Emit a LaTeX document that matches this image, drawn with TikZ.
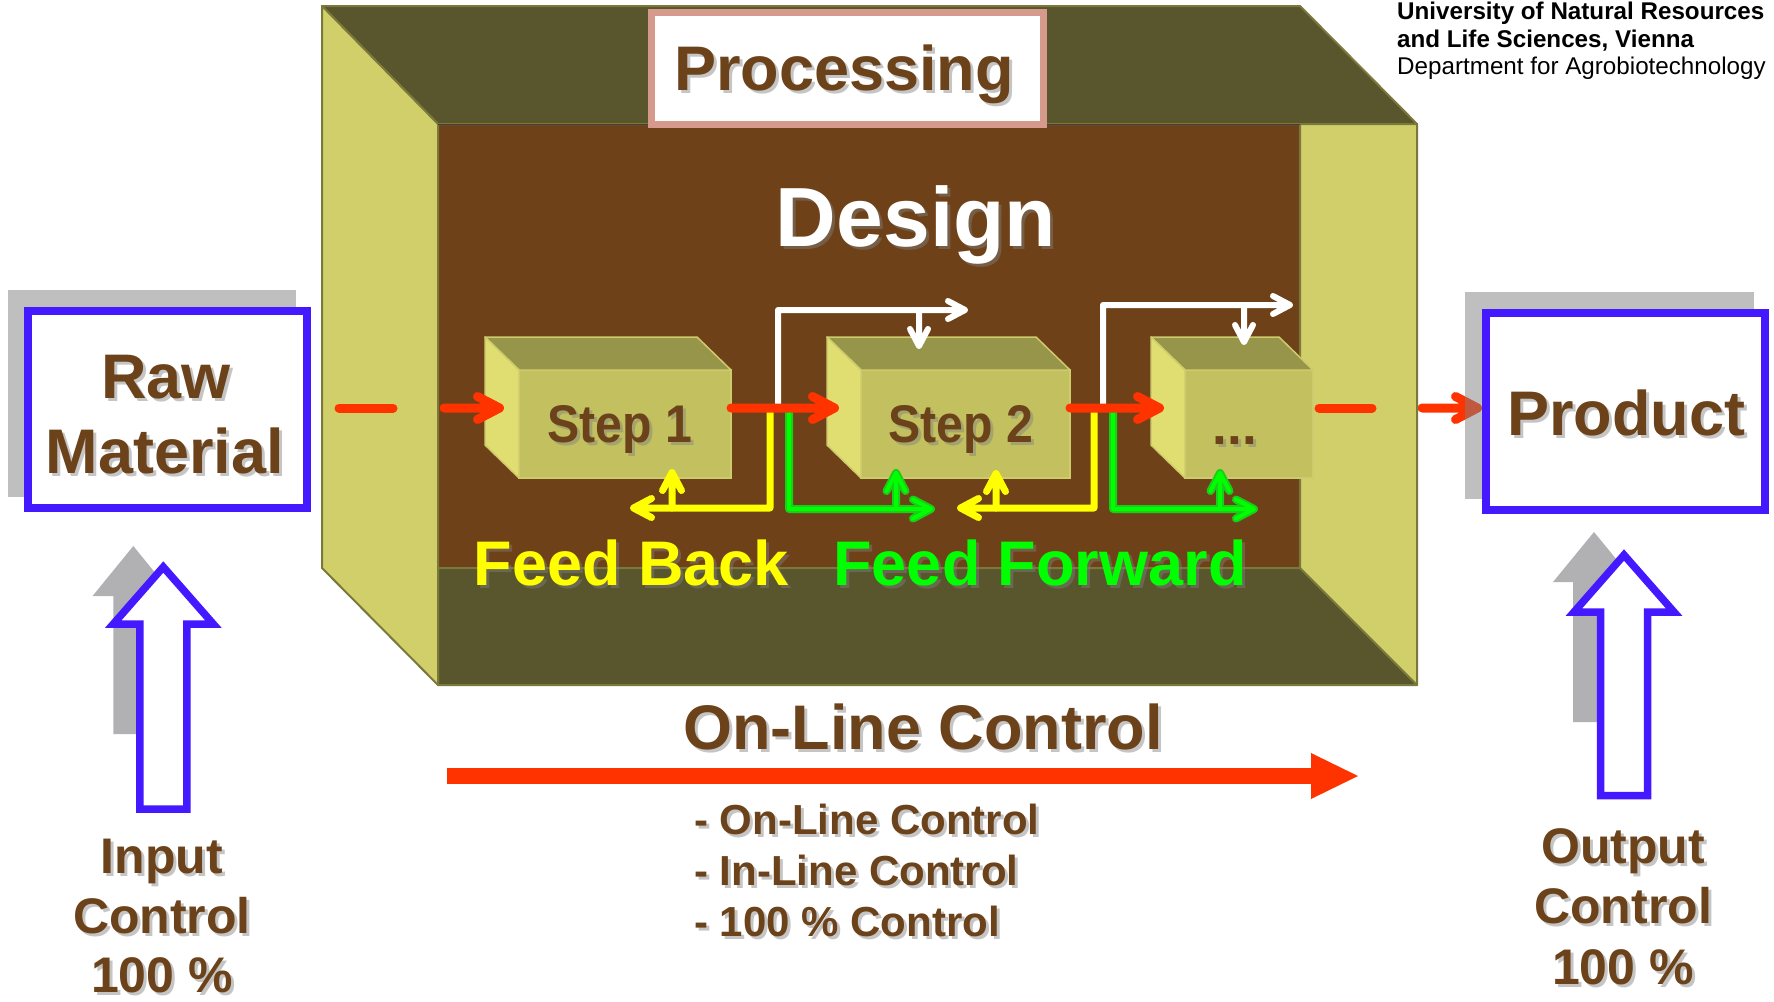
\documentclass[tikz,border=0pt]{standalone}
\usepackage{fontspec}
\setmainfont{Liberation Sans}
\usetikzlibrary{calc}

\definecolor{hallbrown}{RGB}{111,65,24}
\definecolor{halldark}{RGB}{89,85,45}
\definecolor{hallwall}{RGB}{209,207,105}
\definecolor{halledge}{RGB}{122,120,58}
\definecolor{boxfront}{RGB}{195,192,96}
\definecolor{boxtop}{RGB}{151,149,73}
\definecolor{boxside}{RGB}{224,221,113}
\definecolor{boxedge}{RGB}{206,203,108}
\definecolor{txtbrown}{RGB}{107,66,25}
\definecolor{flowred}{RGB}{255,51,0}
\definecolor{ctrlblue}{RGB}{68,25,255}
\definecolor{labelrose}{RGB}{213,154,140}
\definecolor{shadegray}{RGB}{128,128,128}
\definecolor{arrowgray}{RGB}{177,176,179}
\definecolor{fbyellow}{RGB}{255,255,0}
\definecolor{ffgreen}{RGB}{0,255,0}
\definecolor{ffdark}{RGB}{25,205,25}

\pgfdeclarelayer{bg}
\pgfdeclarelayer{low}
\pgfdeclarelayer{mid}
\pgfsetlayers{bg,low,mid,main}

% text with a soft drop shadow: name, options, position, text
\newcommand\shadowed[4]{%
  \node[#2,text=shadegray,opacity=.45] (#1-sh) at ($(#3)+(3,3)$) {#4};
  \node[#2] (#1) at (#3) {#4};}

% outline of an upward block arrow: centre x, tip y, head base y, bottom y, head half width, shaft half width
\newcommand\uparrowpath[6]{(#1,#2) -- ({#1+#5},#3) -- ({#1+#6},#3) -- ({#1+#6},#4)
  -- ({#1-#6},#4) -- ({#1-#6},#3) -- ({#1-#5},#3) -- cycle}

% open chevron heads at a named point: point, length, half width
\newcommand\tipR[3]{($(#1)+(-#2,-#3)$) -- (#1) -- ($(#1)+(-#2,#3)$)}
\newcommand\tipL[3]{($(#1)+(#2,-#3)$) -- (#1) -- ($(#1)+(#2,#3)$)}
\newcommand\tipU[3]{($(#1)+(-#3,#2)$) -- (#1) -- ($(#1)+(#3,#2)$)}
\newcommand\tipD[3]{($(#1)+(-#3,-#2)$) -- (#1) -- ($(#1)+(#3,-#2)$)}

\tikzset{
  lbl/.style={font=\bfseries\fontsize{#1}{#1}\selectfont, inner sep=0pt, anchor=base, text=txtbrown},
  face/.style={fill=#1, draw=halledge, line width=2pt, line join=round},
  ctrlbox/.style={draw=ctrlblue, line width=8pt, fill=white, minimum width=279pt,
    minimum height=197pt, inner sep=0pt},
  stepface/.style={fill=boxfront, draw=boxedge, line width=1.5pt, minimum height=108pt,
    inner sep=0pt, outer sep=0pt},
  stepside/.style={fill=#1, draw=boxedge, line width=1.5pt, line join=round},
  flow/.style={draw=flowred, line width=9pt, line cap=round, line join=round},
  infoline/.style={draw=white, line width=6pt, line cap=round, line join=round},
  fbline/.style={draw=fbyellow, line width=7pt, line cap=round, line join=round},
  ffline/.style={draw=ffdark, line width=8pt, line cap=round, line join=round},
  ffcore/.style={draw=ffgreen, line width=4pt, line cap=round, line join=round},
  ctrlarrow/.style={fill=white, draw=ctrlblue, line width=7.5pt, line join=miter},
}

% a process step drawn as an oblique box: name, centre x, front width
\newcommand\stepblock[3]{%
  \node[stepface, minimum width=#3] (#1) at (#2,424) {};
  \draw[stepside=boxtop] (#1.north west) -- ++(-34,-33) -- ($(#1.north east)+(-34,-33)$)
    -- (#1.north east) -- cycle;
  \draw[stepside=boxside] (#1.north west) -- ++(-34,-33) -- ++(0,108) -- (#1.south west) -- cycle;}

\begin{document}
\begin{tikzpicture}[x=1pt,y=-1pt]
\useasboundingbox (0,0) rectangle (1774,1001);
\begin{pgfonlayer}{bg}
  \fill[white] (0,0) rectangle (1774,1001);
\end{pgfonlayer}

% ---------- processing hall ----------
\fill[hallbrown] (438,124) rectangle (1300,568);
\draw[face=halldark] (322,6) -- (1300,6) -- (1417,124) -- (438,124) -- cycle;
\draw[face=halldark] (438,568) -- (1300,568) -- (1417,685) -- (438,685) -- cycle;
\draw[face=hallwall] (322,6) -- (438,124) -- (438,685) -- (322,568) -- cycle;
\draw[face=hallwall] (1300,124) -- (1417,124) -- (1417,685) -- (1300,568) -- cycle;
\draw[black!75, line width=1pt] (438,124) -- (1300,124);

\node[draw=labelrose, line width=7pt, fill=white, minimum width=392pt, minimum height=112pt,
  inner sep=0pt] (proc) at (847.5,68.75) {};
\shadowed{proctext}{lbl=63}{844,90}{Processing}
\shadowed{design}{lbl=84, text=white}{916,246}{Design}

% ---------- process steps ----------
\stepblock{s1}{625}{212}
\stepblock{s2}{965.5}{209}
\stepblock{s3}{1249}{128}
\shadowed{s1text}{lbl=53}{620,442}{\scalebox{0.91}[1]{Step 1}}
\shadowed{s2text}{lbl=53}{961,442}{\scalebox{0.91}[1]{Step 2}}
\shadowed{s3text}{lbl=53}{1235,444}{...}

% ---------- information flows ----------
\coordinate (w1a) at (778,404);  \coordinate (w1c) at (965,310);
\coordinate (w1d) at (919,310);  \coordinate (w1e) at (919,346);
\coordinate (w2a) at (1103,404); \coordinate (w2c) at (1290,305);
\coordinate (w2d) at (1244,305); \coordinate (w2e) at (1244,342);
\draw[infoline] (w1a) |- (w1c) \tipR{w1c}{17}{9};
\draw[infoline] (w1d) -- (w1e) \tipD{w1e}{17}{9};
\draw[infoline] (w2a) |- (w2c) \tipR{w2c}{17}{9};
\draw[infoline] (w2d) -- (w2e) \tipD{w2e}{17}{9};

\coordinate (y1a) at (770,412);  \coordinate (y1c) at (633.5,508);
\coordinate (y1d) at (672,508);  \coordinate (y1e) at (672,472.5);
\coordinate (y2a) at (1094,412); \coordinate (y2c) at (960.5,508);
\coordinate (y2d) at (996,508);  \coordinate (y2e) at (996,473.5);
\draw[fbline] (y1a) |- (y1c) \tipL{y1c}{18}{9.5};
\draw[fbline] (y1d) -- (y1e) \tipU{y1e}{18}{9.5};
\draw[fbline] (y2a) |- (y2c) \tipL{y2c}{18}{9.5};
\draw[fbline] (y2d) -- (y2e) \tipU{y2e}{18}{9.5};

\coordinate (g1a) at (789,412);  \coordinate (g1c) at (931,509);
\coordinate (g1d) at (896,509);  \coordinate (g1e) at (896,473);
\coordinate (g2a) at (1113,412); \coordinate (g2c) at (1254,509);
\coordinate (g2d) at (1220,509); \coordinate (g2e) at (1220,473);
\foreach \st in {ffline,ffcore}{
  \draw[\st] (g1a) |- (g1c) \tipR{g1c}{18}{9.5};
  \draw[\st] (g1d) -- (g1e) \tipU{g1e}{18}{9.5};
  \draw[\st] (g2a) |- (g2c) \tipR{g2c}{18}{9.5};
  \draw[\st] (g2d) -- (g2e) \tipU{g2e}{18}{9.5};
}

% ---------- material flow ----------
\coordinate (d0a) at (339,408);  \coordinate (d0b) at (393,408);
\coordinate (in1) at (444,408);  \coordinate (tip1) at (499.5,408);
\coordinate (tip2) at (834.5,408); \coordinate (tip3) at (1159.5,408);
\coordinate (d1a) at (1319,408); \coordinate (d1b) at (1372,408);
\coordinate (in4) at (1422,408);
\draw[flow] (d0a) -- (d0b);
\draw[flow] (in1) -- (tip1) \tipR{tip1}{22}{11.5};
\draw[flow] ($(s1.east)+(0,-16)$) -- (tip2) \tipR{tip2}{22}{11.5};
\draw[flow] ($(s2.east)+(0,-16)$) -- (tip3) \tipR{tip3}{22}{11.5};
\draw[flow] (d1a) -- (d1b);

\shadowed{fback}{lbl=63, text=fbyellow}{631.5,585}{Feed Back}
\shadowed{fforward}{lbl=63, text=ffgreen}{1040,585}{Feed Forward}

% ---------- raw material and product ----------
\fill[shadegray, opacity=.5] (8,290) rectangle (296,497);
\node[ctrlbox] (raw) at (167.5,409.5) {};
\shadowed{rawt1}{lbl=63}{166,398}{Raw}
\shadowed{rawt2}{lbl=63}{165,473}{Material}

\node[ctrlbox] (product) at (1625.5,411.5) {};
\coordinate (tip4) at ($(product.west |- in4)+(-4.5,0)$);
\begin{pgfonlayer}{low}
  \draw[flow] (in4) -- (tip4) \tipR{tip4}{22}{11.5};
\end{pgfonlayer}
\begin{pgfonlayer}{mid}
  \fill[shadegray, opacity=.5] (1465,292) rectangle (1754,499);
\end{pgfonlayer}
\shadowed{prodtext}{lbl=63}{1626,435}{Product}

% ---------- on-line control ----------
\shadowed{online}{lbl=63}{923,749}{On-Line Control}
\fill[flowred] (447,768) rectangle (1311,784);
\fill[flowred] (1311,753) -- (1358,776) -- (1311,799) -- cycle;
\shadowed{b1}{lbl=42, anchor=base west}{694,834}{- On-Line Control}
\shadowed{b2}{lbl=42, anchor=base west}{694,885}{- In-Line Control}
\shadowed{b3}{lbl=42, anchor=base west}{694,936}{- 100 \% Control}

% ---------- input control ----------
\fill[arrowgray] \uparrowpath{133.3}{546}{596}{734}{40.7}{20};
\draw[ctrlarrow] \uparrowpath{163.3}{567}{624}{809}{50}{23.5};
\shadowed{in1t}{lbl=50}{162,873}{Input}
\shadowed{in2t}{lbl=50}{162,933}{Control}
\shadowed{in3t}{lbl=50}{162,992}{100 \%}

% ---------- output control ----------
\fill[arrowgray] \uparrowpath{1594}{532}{582}{722}{41}{21};
\draw[ctrlarrow] \uparrowpath{1624}{555}{612}{795.5}{50}{23.5};
\shadowed{out1t}{lbl=50}{1623,863}{Output}
\shadowed{out2t}{lbl=50}{1623,923}{Control}
\shadowed{out3t}{lbl=50}{1623,984}{100 \%}

% ---------- institution ----------
\node[anchor=base west, inner sep=0pt, font=\bfseries\fontsize{24.2}{24.2}\selectfont]
  (uni1) at (1397,19) {University of Natural Resources};
\node[anchor=base west, inner sep=0pt, font=\bfseries\fontsize{24.2}{24.2}\selectfont]
  (uni2) at (1397,47) {and Life Sciences, Vienna};
\node[anchor=base west, inner sep=0pt, font=\fontsize{24.2}{24.2}\selectfont]
  (uni3) at (1397,74) {Department for Agrobiotechnology};
\end{tikzpicture}
\end{document}
